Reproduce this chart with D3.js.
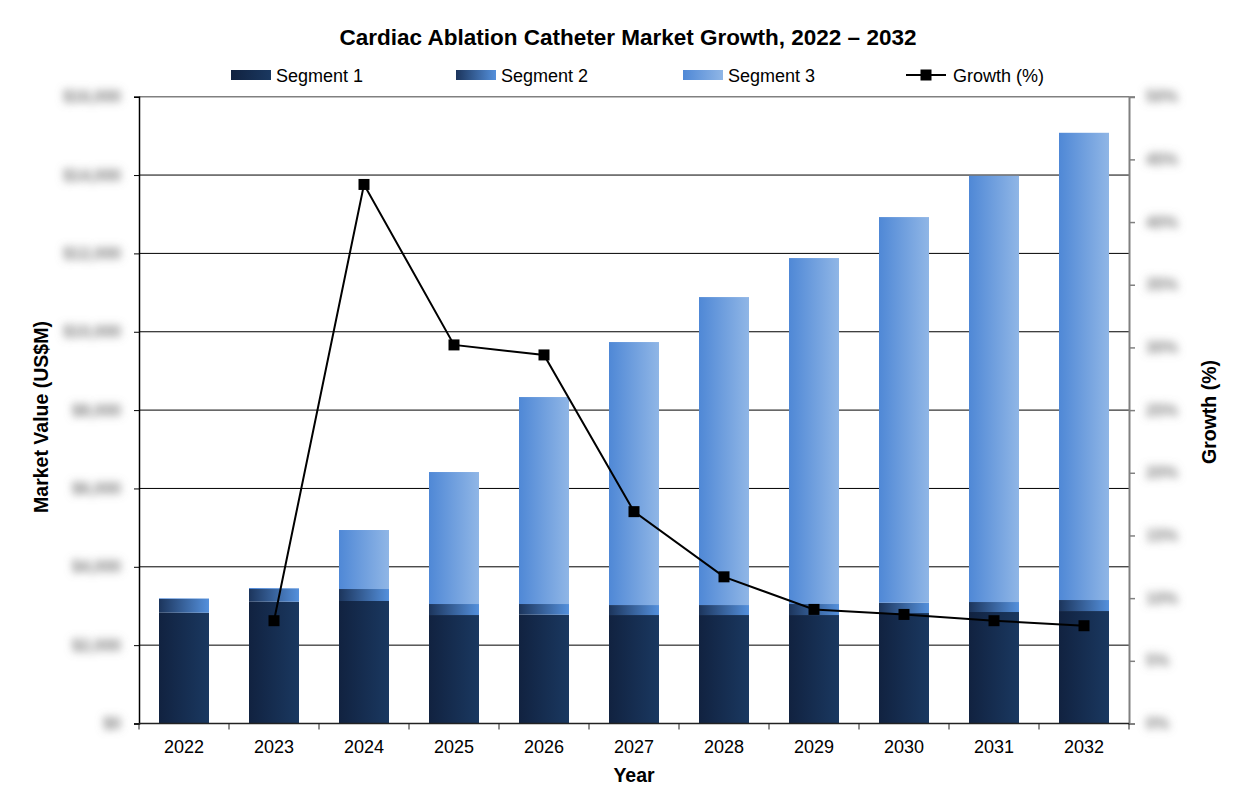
<!DOCTYPE html>
<html>
<head>
<meta charset="utf-8">
<script src="https://cdn.jsdelivr.net/npm/d3@7"></script>
<style>
body { margin: 0; background: #fff; }
text { font-family: "Liberation Sans", Arial, sans-serif; }
</style>
</head>
<body>
<svg id="chart" width="1256" height="810"></svg>
<script>
const years = ["2022","2023","2024","2025","2026","2027","2028","2029","2030","2031","2032"];
const segment1 = [2828, 3109, 3127, 2769, 2777, 2769, 2769, 2769, 2820, 2846, 2871];
const segment2 = [350, 324, 306, 281, 273, 255, 255, 281, 263, 255, 281];
const segment3 = [18, 26, 1506, 3369, 5283, 6713, 7861, 8831, 9844, 10880, 11927];
const growthYears = ["2023","2024","2025","2026","2027","2028","2029","2030","2031","2032"];
const growth = [8.2, 43.0, 30.2, 29.4, 16.9, 11.7, 9.1, 8.7, 8.2, 7.8];
const leftTicks = [0, 2000, 4000, 6000, 8000, 10000, 12000, 14000, 16000];
const rightTicks = [0, 5, 10, 15, 20, 25, 30, 35, 40, 45, 50];
const seriesNames = ["Segment 1", "Segment 2", "Segment 3"];

const svg = d3.select("#chart");
const L = 139, R = 1129, T = 96.7, B = 723.5;

const defs = svg.append("defs");
function grad(id, c0, c1) {
  const g = defs.append("linearGradient").attr("id", id)
    .attr("x1", "0%").attr("x2", "100%").attr("y1", "0%").attr("y2", "0%");
  g.append("stop").attr("offset", "0%").attr("stop-color", c0);
  g.append("stop").attr("offset", "100%").attr("stop-color", c1);
}
grad("g1", "#112240", "#1a3860");
grad("g2", "#1c355c", "#5490dc");
grad("g3", "#4f88d6", "#90b6e6");
defs.append("filter").attr("id", "blur").attr("x", "-50%").attr("y", "-120%")
  .attr("width", "200%").attr("height", "340%")
  .append("feGaussianBlur").attr("stdDeviation", 4);

const x = d3.scaleBand().domain(years).range([L, R]).paddingInner(0).paddingOuter(0);
const y = d3.scaleLinear().domain([0, 16000]).range([B, T]);
const y2 = d3.scaleLinear().domain([0, 50]).range([B, T]);

// gridlines
svg.append("g").selectAll("line").data(leftTicks.filter(d => d > 0 && d < 16000)).join("line")
  .attr("x1", L).attr("x2", R).attr("y1", d => y(d)).attr("y2", d => y(d))
  .attr("stroke", "#000").attr("stroke-width", 1);

// top border
svg.append("line").attr("x1", L).attr("x2", R).attr("y1", T).attr("y2", T)
  .attr("stroke", "#808080").attr("stroke-width", 1.5);

// stacked bars
const table = years.map((yr, i) => ({ year: yr, s1: segment1[i], s2: segment2[i], s3: segment3[i] }));
const stack = d3.stack().keys(["s1", "s2", "s3"])(table);
const fills = ["url(#g1)", "url(#g2)", "url(#g3)"];
const barW = 50;
stack.forEach((layer, k) => {
  svg.append("g").selectAll("rect").data(layer).join("rect")
    .attr("x", d => x(d.data.year) + x.bandwidth() / 2 - barW / 2)
    .attr("width", barW)
    .attr("y", d => y(d[1]))
    .attr("height", d => y(d[0]) - y(d[1]))
    .attr("fill", fills[k]);
});

// left axis
const leftAxis = d3.axisLeft(y).tickValues(leftTicks).tickSize(5)
  .tickFormat(d => "$" + d3.format(",")(d));
const gl = svg.append("g").attr("transform", `translate(${L},0)`).call(leftAxis);
gl.select(".domain").attr("stroke", "#000").attr("stroke-width", 1.5);
gl.selectAll(".tick line").attr("stroke", "#000");
gl.selectAll(".tick text").attr("x", -18).attr("font-size", 16).attr("font-weight", "bold")
  .attr("fill", "#7a7a7a")
  .attr("filter", "url(#blur)").style("font-family", "Liberation Sans, Arial, sans-serif");

// right axis
const rightAxis = d3.axisRight(y2).tickValues(rightTicks).tickSize(6).tickFormat(d => d + "%");
const gr = svg.append("g").attr("transform", `translate(${R},0)`).call(rightAxis);
gr.select(".domain").attr("stroke", "#808080").attr("stroke-width", 2);
gr.selectAll(".tick line").attr("stroke", "#808080").attr("stroke-width", 1.5);
gr.selectAll(".tick text").attr("x", 17).attr("font-size", 16).attr("font-weight", "bold")
  .attr("fill", "#7a7a7a")
  .attr("filter", "url(#blur)").style("font-family", "Liberation Sans, Arial, sans-serif");

// bottom axis
const bx = svg.append("g").attr("transform", `translate(0,${B})`);
bx.append("line").attr("x1", L).attr("x2", R).attr("stroke", "#222").attr("stroke-width", 1.5);
const bounds = years.map(d => x(d)).concat([R]);
bx.selectAll("line.tk").data(bounds).join("line").attr("class", "tk")
  .attr("x1", d => d).attr("x2", d => d).attr("y1", 0).attr("y2", 6)
  .attr("stroke", "#222").attr("stroke-width", 1);
bx.selectAll("text").data(years).join("text")
  .attr("x", d => x(d) + x.bandwidth() / 2).attr("y", 29)
  .attr("text-anchor", "middle").attr("font-size", 18).attr("fill", "#000").text(d => d);

// growth line
const line = d3.line().x((d, i) => x(growthYears[i]) + x.bandwidth() / 2).y(d => y2(d));
svg.append("path").datum(growth).attr("d", line).attr("fill", "none")
  .attr("stroke", "#000").attr("stroke-width", 2);
svg.append("g").selectAll("rect").data(growth).join("rect")
  .attr("x", (d, i) => x(growthYears[i]) + x.bandwidth() / 2 - 5.5)
  .attr("y", d => y2(d) - 5.5).attr("width", 11).attr("height", 11).attr("fill", "#000");

// title
svg.append("text").attr("x", 628).attr("y", 45).attr("text-anchor", "middle")
  .attr("font-size", 22.5).attr("font-weight", "bold").text("Cardiac Ablation Catheter Market Growth, 2022 – 2032");

// axis titles
svg.append("text").attr("x", 634).attr("y", 782).attr("text-anchor", "middle")
  .attr("font-size", 19.5).attr("font-weight", "bold").text("Year");
svg.append("text").attr("transform", "translate(48,417) rotate(-90)").attr("text-anchor", "middle")
  .attr("font-size", 19.5).attr("font-weight", "bold").text("Market Value (US$M)");
svg.append("text").attr("transform", "translate(1216,412) rotate(-90)").attr("text-anchor", "middle")
  .attr("font-size", 19.5).attr("font-weight", "bold").text("Growth (%)");

// legend
const legX = [231, 456, 683];
const lg = svg.append("g");
seriesNames.forEach((n, k) => {
  lg.append("rect").attr("x", legX[k]).attr("y", 70).attr("width", 40).attr("height", 10).attr("fill", fills[k]);
  lg.append("text").attr("x", legX[k] + 45).attr("y", 82).attr("font-size", 18).text(n);
});
lg.append("line").attr("x1", 906).attr("x2", 946).attr("y1", 75).attr("y2", 75).attr("stroke", "#000").attr("stroke-width", 2);
lg.append("rect").attr("x", 920.5).attr("y", 69.5).attr("width", 11).attr("height", 11).attr("fill", "#000");
lg.append("text").attr("x", 953).attr("y", 82).attr("font-size", 18).text("Growth (%)");
</script>
</body>
</html>
